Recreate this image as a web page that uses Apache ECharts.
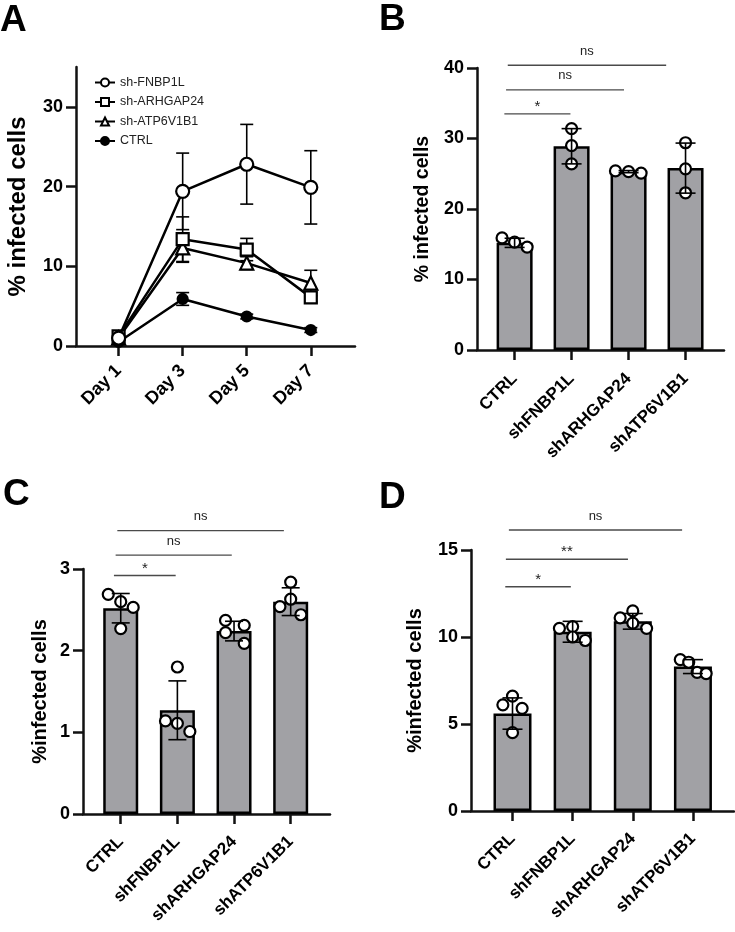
<!DOCTYPE html>
<html><head><meta charset="utf-8">
<script src="https://cdn.jsdelivr.net/npm/echarts@6/dist/echarts.min.js"></script>
<style>html,body{margin:0;padding:0;background:#fff}#c{width:735px;height:932px}</style>
</head><body><div id="c"></div>
<script>
// ---------- Panel A data ----------
const days = ['Day 1', 'Day 3', 'Day 5', 'Day 7'];
const dayNum = [1, 3, 5, 7];
const seriesNamesA = ['sh-FNBP1L', 'sh-ARHGAP24', 'sh-ATP6V1B1', 'CTRL'];
const aFNBP1L = [1.0, 19.4, 22.8, 19.9];
const aFNBP1LSd = [0.3, 4.8, 5.0, 4.6];
const aARHGAP24 = [1.2, 13.4, 12.1, 6.1];
const aARHGAP24Sd = [0.3, 2.8, 1.4, 0.6];
const aATP6V1B1 = [1.0, 12.3, 10.4, 7.9];
const aATP6V1B1Sd = [0.3, 1.8, 0.8, 1.6];
const aCTRL = [0.5, 5.9, 3.7, 2.0];
const aCTRLSd = [0.2, 0.8, 0.3, 0.3];
const yTicksA = [0, 10, 20, 30];

// ---------- Bar panels ----------
const cats = ['CTRL', 'shFNBP1L', 'shARHGAP24', 'shATP6V1B1'];
const catPos = [0, 1, 2, 3];

const bMean = [15.2, 28.9, 25.3, 25.8];
const bSd = [0.65, 2.5, 0.15, 3.55];
const bPoints = [[15.9, 15.3, 14.6], [31.4, 29.0, 26.4], [25.4, 25.3, 25.1], [29.4, 25.7, 22.3]];
const bJitter = [[-0.22, 0, 0.22], [0, 0, 0], [-0.23, 0, 0.22], [0, 0, 0]];
const bSig = [['*', -0.18, 0.98, 33.5], ['ns', -0.15, 1.92, 36.9], ['ns', -0.12, 2.66, 40.4]];
const yTicksB = [0, 10, 20, 30, 40];

const cMean = [2.52, 1.27, 2.24, 2.60];
const cSd = [0.18, 0.36, 0.12, 0.17];
const cPoints = [[2.69, 2.60, 2.53, 2.27], [1.80, 1.14, 1.11, 1.01], [2.37, 2.31, 2.22, 2.09], [2.84, 2.63, 2.54, 2.44]];
const cJitter = [[-0.22, 0, 0.22, 0], [0, -0.21, 0, 0.22], [-0.15, 0.18, -0.15, 0.18], [0, 0, -0.19, 0.18]];
const cSig = [['*', -0.12, 0.97, 2.92], ['ns', -0.09, 1.96, 3.17], ['ns', -0.06, 2.88, 3.47]];
const yTicksC = [0, 1, 2, 3];

const dMean = [5.6, 10.3, 10.9, 8.3];
const dSd = [0.9, 0.6, 0.45, 0.4];
const dPoints = [[6.6, 6.1, 5.9, 4.5], [10.6, 10.5, 10.0, 9.8], [11.5, 11.1, 10.8, 10.5], [8.7, 8.55, 7.97, 7.9]];
const dJitter = [[0, -0.16, 0.16, 0], [0, -0.22, 0, 0.21], [0, -0.21, 0, 0.23], [-0.21, -0.07, 0.07, 0.22]];
const dSig = [['*', -0.12, 0.97, 12.89], ['**', -0.11, 1.92, 14.47], ['ns', -0.06, 2.82, 16.15]];
const yTicksD = [0, 5, 10, 15];

// ---------- helpers ----------
const FF = '"Liberation Sans", Arial, Helvetica, sans-serif';
const AXC = '#111';

function errRender(capHalf, lw) {
  return function (params, api) {
    const x = api.value(0), m = api.value(1), s = api.value(2);
    const t = api.coord([x, m + s]);
    const b = api.coord([x, m - s]);
    const st = { stroke: '#000', lineWidth: lw };
    return {
      type: 'group',
      children: [
        { type: 'line', shape: { x1: t[0], y1: t[1], x2: b[0], y2: b[1] }, style: st },
        { type: 'line', shape: { x1: t[0] - capHalf, y1: t[1], x2: t[0] + capHalf, y2: t[1] }, style: st },
        { type: 'line', shape: { x1: b[0] - capHalf, y1: b[1], x2: b[0] + capHalf, y2: b[1] }, style: st }
      ]
    };
  };
}

function sigRender(sig) {
  return function (params, api) {
    const a = api.coord([api.value(0), api.value(2)]);
    const b = api.coord([api.value(1), api.value(2)]);
    const lab = sig[params.dataIndex][0];
    const star = lab.indexOf('*') >= 0;
    return {
      type: 'group',
      children: [
        { type: 'line', shape: { x1: a[0], y1: a[1], x2: b[0], y2: b[1] }, style: { stroke: '#4a4a4a', lineWidth: 1.4 } },
        { type: 'text', style: { text: lab, x: (a[0] + b[0]) / 2, y: a[1] - (star ? 7 : 14), align: 'center', verticalAlign: 'middle', fontSize: star ? 15 : 13, fontFamily: FF, fill: '#222' } }
      ]
    };
  };
}

function xAxisCfg(gi, min, max, ticks, fmt, fs, margin) {
  return {
    type: 'value', gridIndex: gi, min: min, max: max,
    splitLine: { show: false },
    axisLine: { onZero: false, lineStyle: { color: AXC, width: 2.5 } },
    axisTick: { customValues: ticks, length: 10, lineStyle: { color: AXC, width: 2.5 } },
    axisLabel: { customValues: ticks, formatter: fmt, rotate: 45, margin: margin, color: '#000', fontWeight: 'bold', fontSize: fs, fontFamily: FF }
  };
}
function yAxisCfg(gi, max, interval, ticks, name, nameSize, nameGap) {
  return {
    type: 'value', gridIndex: gi, min: 0, max: max, interval: interval,
    splitLine: { show: false },
    axisLine: { show: true, onZero: false, lineStyle: { color: AXC, width: 2.5 } },
    axisTick: { show: true, customValues: ticks, length: 10, lineStyle: { color: AXC, width: 2.5 } },
    axisLabel: { customValues: ticks, margin: 13, color: '#000', fontWeight: 'bold', fontSize: 18, fontFamily: FF },
    name: name, nameLocation: 'middle', nameGap: nameGap,
    nameTextStyle: { color: '#000', fontWeight: 'bold', fontSize: nameSize, fontFamily: FF }
  };
}

function barPanel(gi, mean, sd, points, jitter, sig, barW, capHalf) {
  const pts = [];
  points.forEach((arr, i) => arr.forEach((v, k) => pts.push([catPos[i] + jitter[i][k], v])));
  return [
    {
      type: 'bar', xAxisIndex: gi, yAxisIndex: gi, barWidth: barW, z: 2,
      data: catPos.map((p, i) => [p, mean[i]]),
      itemStyle: { color: '#a1a1a5', borderColor: '#000', borderWidth: 2.5 }
    },
    {
      type: 'scatter', xAxisIndex: gi, yAxisIndex: gi, z: 3,
      symbol: 'circle', symbolSize: 11,
      itemStyle: { color: '#fff', borderColor: '#000', borderWidth: 2.2, opacity: 1 },
      data: pts
    },
    {
      type: 'custom', xAxisIndex: gi, yAxisIndex: gi, z: 4,
      renderItem: errRender(capHalf, 1.6),
      data: catPos.map((p, i) => [p, mean[i], sd[i]])
    },
    {
      type: 'custom', xAxisIndex: gi, yAxisIndex: gi, z: 4, clip: false,
      renderItem: sigRender(sig),
      data: sig.map(s => [s[1], s[2], s[3]])
    }
  ];
}

const aMeans = [aFNBP1L, aARHGAP24, aATP6V1B1, aCTRL];
const aSds = [aFNBP1LSd, aARHGAP24Sd, aATP6V1B1Sd, aCTRLSd];
const aSymbols = ['circle', 'rect', 'triangle', 'circle'];
const aSizes = [13, 12, 13, 10];
const aFill = ['#fff', '#fff', '#fff', '#000'];

const series = [];
aMeans.forEach((m, si) => {
  series.push({
    type: 'custom', xAxisIndex: 0, yAxisIndex: 0, z: 1,
    renderItem: errRender(6.5, 1.6),
    data: dayNum.map((d, i) => [d, m[i], aSds[si][i]])
  });
});
aMeans.forEach((m, si) => {
  series.push({
    type: 'line', name: seriesNamesA[si], xAxisIndex: 0, yAxisIndex: 0, z: 2 + (3 - si) * 0.1,
    symbol: aSymbols[si], symbolSize: aSizes[si], showAllSymbol: true,
    lineStyle: { color: '#000', width: 2.5 },
    itemStyle: { color: aFill[si], borderColor: '#000', borderWidth: 2.2 },
    data: dayNum.map((d, i) => [d, m[i]])
  });
});
series.push(...barPanel(1, bMean, bSd, bPoints, bJitter, bSig, 36, 10));
series.push(...barPanel(2, cMean, cSd, cPoints, cJitter, cSig, 35, 9));
series.push(...barPanel(3, dMean, dSd, dPoints, dJitter, dSig, 38, 10));

const catFmt = v => cats[Math.round(v)];
const dayFmt = v => days[dayNum.indexOf(v)];

const titleStyle = { color: '#000', fontWeight: 'bold', fontSize: 37, fontFamily: FF };
const option = {
  animation: false,
  backgroundColor: '#fff',
  title: [
    { text: 'A', left: 0, top: 2, padding: 0, textStyle: titleStyle },
    { text: 'B', left: 379, top: 1, padding: 0, textStyle: titleStyle },
    { text: 'C', left: 3, top: 476, padding: 0, textStyle: titleStyle },
    { text: 'D', left: 379, top: 479, padding: 0, textStyle: titleStyle }
  ],
  legend: {
    data: seriesNamesA, orient: 'vertical', left: 94, top: 76, padding: 0,
    itemWidth: 20, itemHeight: 10, itemGap: 6.5,
    textStyle: { color: '#222', fontSize: 12.5, fontFamily: FF }
  },
  grid: [
    { left: 76, top: 67, width: 279, height: 279 },
    { left: 477, top: 68, width: 247, height: 282 },
    { left: 83, top: 569, width: 247, height: 245 },
    { left: 471, top: 550, width: 263, height: 261 }
  ],
  xAxis: [
    xAxisCfg(0, -0.33, 8.38, dayNum, dayFmt, 18, 22),
    xAxisCfg(1, -0.66, 3.675, catPos, catFmt, 17, 26),
    xAxisCfg(2, -0.666, 3.694, catPos, catFmt, 17, 25),
    xAxisCfg(3, -0.69, 3.683, catPos, catFmt, 17, 25)
  ],
  yAxis: [
    yAxisCfg(0, 35, 10, yTicksA, '% infected cells', 24, 46),
    yAxisCfg(1, 40, 10, yTicksB, '% infected cells', 19.5, 44),
    yAxisCfg(2, 3, 1, yTicksC, '%infected cells', 20, 33),
    yAxisCfg(3, 15, 5, yTicksD, '%infected cells', 20, 46)
  ],
  series: series
};
const chart = echarts.init(document.getElementById('c'), null, { renderer: 'canvas' });
chart.setOption(option);
</script></body></html>
